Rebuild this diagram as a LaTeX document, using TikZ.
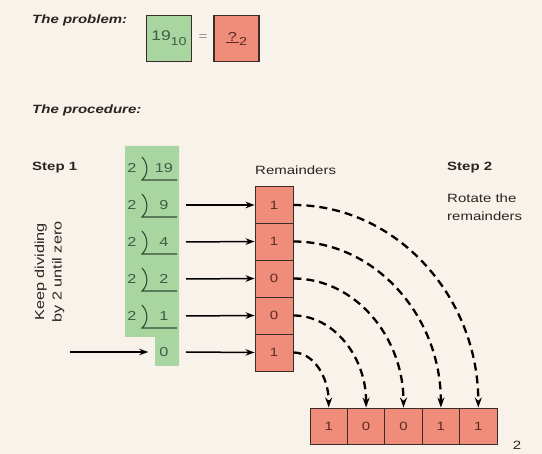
\documentclass[tikz,border=0pt]{standalone}
\usepackage{fontspec}
\setmainfont{Liberation Sans}[FakeStretch=1.25]
\usetikzlibrary{arrows.meta}
\definecolor{bg}{HTML}{F9F2EA}
\definecolor{grn}{HTML}{A9D5A1}
\definecolor{sal}{HTML}{EF8D7A}
\definecolor{gtxt}{HTML}{3E5E45}
\definecolor{rtxt}{HTML}{5B2A22}
\definecolor{edgec}{HTML}{3A2C28}
\definecolor{dtxt}{HTML}{2A2522}
\begin{document}
\begin{tikzpicture}[x=1pt,y=-1pt,
  lbl/.style={inner sep=0pt, text=dtxt, font=\fontsize{12}{14}\selectfont},
  boldlbl/.style={lbl, font=\fontsize{12}{14}\selectfont\bfseries},
  itlbl/.style={lbl, font=\fontsize{12}{14}\selectfont\bfseries\itshape},
  probbox/.style={draw=edgec, line width=1.3pt, minimum width=45pt, minimum height=46pt, inner sep=0pt},
  divtxt/.style={inner sep=0pt, text=gtxt, font=\fontsize{13}{14}\selectfont},
  rembox/.style={draw=edgec, line width=0.9pt, fill=sal, minimum width=38pt, minimum height=37pt, inner sep=0pt, text=rtxt, font=\fontsize{12}{14}\selectfont},
  botbox/.style={rembox, minimum width=37.4pt, minimum height=36pt},
  solidarrow/.style={line width=1.5pt, draw=black, -{Stealth[length=9pt,width=6.5pt]}},
  rotarrow/.style={line width=2.3pt, draw=black, dash pattern=on 8pt off 5pt, -{Stealth[length=10pt,width=7pt]}},
  divline/.style={line width=1.1pt, draw=gtxt!80!black}
]
\fill[bg] (0,0) rectangle (542,454);
\useasboundingbox (0,0) rectangle (542,454);

% problem
\node[itlbl, anchor=west] (prob) at (32,20) {The problem:};
\node[probbox, fill=grn, text=gtxt] (pg) at (169,38.5) {\fontsize{14}{14}\selectfont 19\raisebox{-5pt}{\fontsize{11.5}{12}\selectfont 10}};
\node[inner sep=0pt, text=black!45, font=\fontsize{12}{12}\selectfont] (eq) at (203,38) {=};
\node[probbox, fill=sal, text=rtxt] (pr) at (236.5,38.5) {\fontsize{13}{14}\selectfont\underline{\,?\,}\raisebox{-4pt}{\fontsize{11.5}{12}\selectfont 2}};

\node[itlbl, anchor=west] (proc) at (32,110) {The procedure:};

% step 1
\node[boldlbl, anchor=west] (s1) at (32,168) {Step 1};
\node[lbl, rotate=90, align=center, font=\fontsize{13}{17.5}\selectfont] (keep) at (49.5,272) {Keep dividing\\by 2 until zero};

% green column
\fill[grn] (125,146) -- (179,146) -- (179,366) -- (155,366) -- (155,337) -- (125,337) -- cycle;

\foreach \n/\y/\d in {1/168/19, 2/205/9, 3/242/4, 4/279/2, 5/316/1}{
  \node[divtxt] (v\n) at (132,\y) {2};
  \node[divtxt] (d\n) at (164,\y) {\d};
  \draw[divline] (142,\y-11) .. controls (148.5,\y-4) and (148.5,\y+6) .. (142,\y+12) -- (177,\y+12);
}
\node[divtxt] (q0) at (164,352) {0};

% remainders
\node[lbl, anchor=west] (remlbl) at (255,170) {Remainders};
\foreach \n/\y/\d in {1/205/1, 2/241.5/1, 3/278.5/0, 4/315.5/0, 5/352.5/1}{
  \node[rembox] (r\n) at (274,\y) {\d};
}
\foreach \n/\y in {2/205, 3/242, 4/279, 5/316}{
  \coordinate (a\n) at (186,\y);
}
\coordinate (a6) at (186,352);
\draw[solidarrow] (a2) -- (r1.west);
\draw[solidarrow] (a3) -- (r2.west);
\draw[solidarrow] (a4) -- (r3.west);
\draw[solidarrow] (a5) -- (r4.west);
\draw[solidarrow] (a6) -- (r5.west);
\coordinate (inq) at (70,352);
\draw[solidarrow, shorten >=11pt] (inq) -- (q0.west);

% step 2
\node[boldlbl, anchor=west] (s2) at (447,168) {Step 2};
\node[lbl, anchor=north west, align=left, font=\fontsize{12}{17.5}\selectfont] (rot) at (447,194) {Rotate the\\remainders};

% result
\foreach \n/\x/\d in {1/328.7/1, 2/366.1/0, 3/403.5/0, 4/440.9/1, 5/478.3/1}{
  \node[botbox] (b\n) at (\x,426) {\d};
}
\node[lbl] (base) at (517,445) {2};

% rotation arcs
\draw[rotarrow] (r1.east) .. controls +(102,0) and +(0,-112) .. (b5.north);
\draw[rotarrow] (r2.east) .. controls +(81.5,0) and +(0,-92) .. (b4.north);
\draw[rotarrow] (r3.east) .. controls +(61,0) and +(0,-71.5) .. (b3.north);
\draw[rotarrow] (r4.east) .. controls +(40,0) and +(0,-51) .. (b2.north);
\draw[rotarrow] (r5.east) .. controls +(20,0) and +(0,-30.5) .. (b1.north);
\end{tikzpicture}
\end{document}
